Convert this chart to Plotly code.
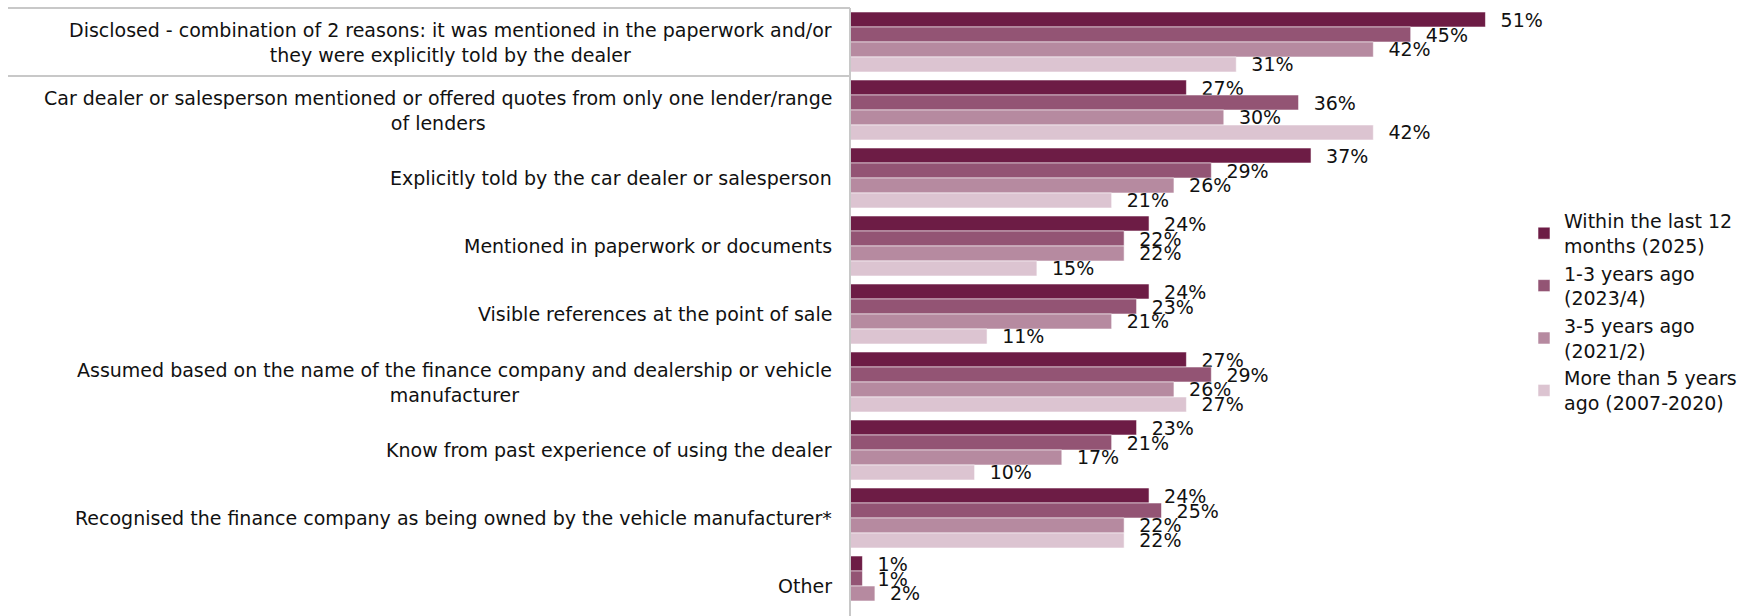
import plotly.graph_objects as go

# Reasons (top to bottom) and the share of respondents per time period
categories = [
    "Disclosed - combination of 2 reasons: it was mentioned in the paperwork and/or<br>they were explicitly told by the dealer",
    "Car dealer or salesperson mentioned or offered quotes from only one lender/range<br>of lenders",
    "Explicitly told by the car dealer or salesperson",
    "Mentioned in paperwork or documents",
    "Visible references at the point of sale",
    "Assumed based on the name of the finance company and dealership or vehicle<br>manufacturer",
    "Know from past experience of using the dealer",
    "Recognised the finance company as being owned by the vehicle manufacturer*",
    "Other",
]

series_names = [
    "Within the last 12<br>months (2025)",
    "1-3 years ago<br>(2023/4)",
    "3-5 years ago<br>(2021/2)",
    "More than 5 years<br>ago (2007-2020)",
]

within_12_months = [51, 27, 37, 24, 24, 27, 23, 24, 1]
years_1_3 = [45, 36, 29, 22, 23, 29, 21, 25, 1]
years_3_5 = [42, 30, 26, 22, 21, 26, 17, 22, 2]
more_than_5 = [31, 42, 21, 15, 11, 27, 10, 22, None]

series_values = [within_12_months, years_1_3, years_3_5, more_than_5]
colors = ["#6d1c45", "#935474", "#b68aa0", "#dcc4d1"]

FONT = "DejaVu Sans"
W, H = 1742, 616
PLOT_L, PLOT_R, PLOT_T = 850, 1742, 8
PX_PER_PCT = 12.46
CAT_PITCH = 68  # px per category row
plot_w = PLOT_R - PLOT_L
plot_h = H - PLOT_T
x_max = plot_w / PX_PER_PCT
y_bottom = -0.5 + plot_h / CAT_PITCH
NBSP = "\u00a0"

fig = go.Figure()
for k, (name, vals, col) in enumerate(zip(series_names, series_values, colors)):
    fig.add_trace(go.Bar(
        y=list(range(len(categories))),
        x=vals,
        name=name,
        legendgroup=f"g{k}",
        orientation="h",
        marker=dict(color=col, line=dict(color="rgba(255,255,255,0.55)", width=1)),
        text=[f"{NBSP * 2}{v}%" if v is not None else "" for v in vals],
        textposition="outside",
        constraintext="none",
        cliponaxis=False,
        textfont=dict(family=FONT, size=19, color="#111111"),
        hoverinfo="skip",
    ))

# Category labels, centred lines, right-aligned against the axis
for i, cat in enumerate(categories):
    fig.add_annotation(
        x=0, xref="paper", y=i, yref="y",
        text=cat, showarrow=False,
        xanchor="right", yanchor="middle", align="center",
        xshift=-16,
        font=dict(family=FONT, size=19, color="#111111"),
    )

line_col = "#c8c8c8"
left_px = 8
x_left_paper = (left_px - PLOT_L) / plot_w
# Box around the first (summary) row
fig.add_shape(type="line", xref="paper", yref="paper", x0=x_left_paper, x1=0,
              y0=1, y1=1, line=dict(color=line_col, width=2))
fig.add_shape(type="line", xref="paper", yref="y", x0=x_left_paper, x1=0,
              y0=0.5, y1=0.5, line=dict(color=line_col, width=2))
# Vertical category axis line
fig.add_shape(type="line", xref="paper", yref="paper", x0=0, x1=0,
              y0=0, y1=1, line=dict(color=line_col, width=2))

fig.update_layout(
    width=W, height=H,
    margin=dict(l=PLOT_L, r=W - PLOT_R, t=PLOT_T, b=0, pad=0),
    barmode="group",
    bargap=0.118,
    bargroupgap=0,
    plot_bgcolor="white",
    paper_bgcolor="white",
    font=dict(family=FONT, size=19, color="#111111"),
    showlegend=True,
    legend=dict(
        x=1, xanchor="right",
        y=0.5, yanchor="middle",
        font=dict(family=FONT, size=19, color="#111111"),
        itemwidth=30,
        traceorder="normal",
        tracegroupgap=3,
        bgcolor="rgba(0,0,0,0)",
    ),
    xaxis=dict(range=[0, x_max], visible=False, fixedrange=True),
    yaxis=dict(range=[y_bottom, -0.5], showticklabels=False, showgrid=False,
               zeroline=False, showline=False, ticks="", fixedrange=True),
)

fig.write_html("out.html")
